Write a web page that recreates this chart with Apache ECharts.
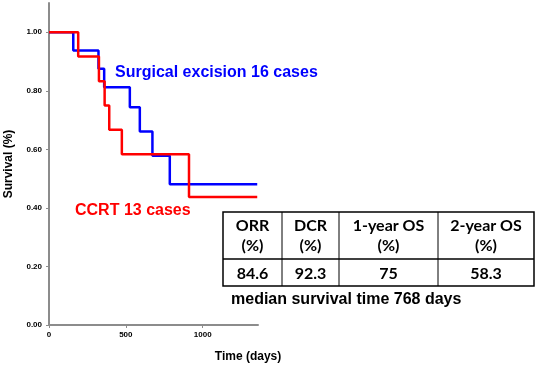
<!DOCTYPE html>
<html>
<head>
<meta charset="utf-8">
<script src="https://cdn.jsdelivr.net/npm/echarts@6/dist/echarts.min.js"></script>
<style>
  html, body { margin: 0; padding: 0; background: #fff; }
  #chart { width: 536px; height: 366px; }
</style>
</head>
<body>
<div id="chart"></div>
<script>
// Kaplan-Meier steps: [days, survival]
const surgeryTimes = [0, 158, 322, 359, 526, 591, 673, 786, 1355];
const surgerySurv = [1.0, 0.9375, 0.875, 0.8125, 0.744, 0.661, 0.578, 0.481, 0.481];
const ccrtTimes = [0, 190, 325, 362, 392, 474, 911, 1355];
const ccrtSurv = [1.0, 0.917, 0.833, 0.75, 0.667, 0.583, 0.437, 0.437];

const yTicks = [0, 0.2, 0.4, 0.6, 0.8, 1.0];
const xTicks = [0, 500, 1000];

const tableHeaders = ['ORR\n(%)', 'DCR\n(%)', '1-year OS\n(%)', '2-year OS\n(%)'];
const tableValues = ['84.6', '92.3', '75', '58.3'];
const medianNote = 'median survival time 768 days';

const chart = echarts.init(document.getElementById('chart'));

// table geometry
const colX = [223, 282, 339, 438, 534];
const rowY = [212, 259, 286];
const tableFont = 'Lato, "Open Sans", sans-serif';
const arial = '"Liberation Sans", Arial, sans-serif';

const tableGraphics = [];
tableGraphics.push({
  type: 'rect',
  shape: { x: colX[0], y: rowY[0], width: colX[4] - colX[0], height: rowY[2] - rowY[0] },
  style: { fill: 'none', stroke: '#000', lineWidth: 1.5 }
});
tableGraphics.push({
  type: 'line',
  shape: { x1: colX[0], y1: rowY[1], x2: colX[4], y2: rowY[1] },
  style: { stroke: '#000', lineWidth: 1.5 }
});
for (let i = 1; i < 4; i++) {
  tableGraphics.push({
    type: 'line',
    shape: { x1: colX[i], y1: rowY[0], x2: colX[i], y2: rowY[2] },
    style: { stroke: '#000', lineWidth: 1 }
  });
}
tableHeaders.forEach((h, i) => {
  const cx = (colX[i] + colX[i + 1]) / 2;
  tableGraphics.push({
    type: 'text',
    x: cx, y: (rowY[0] + rowY[1]) / 2,
    style: {
      text: h, align: 'center', verticalAlign: 'middle',
      font: 'bold 16px ' + tableFont, lineHeight: 20, fill: '#000'
    }
  });
  tableGraphics.push({
    type: 'text',
    x: cx, y: (rowY[1] + rowY[2]) / 2 + 1,
    style: {
      text: tableValues[i], align: 'center', verticalAlign: 'middle',
      font: 'bold 16px ' + tableFont, fill: '#000'
    }
  });
});

const option = {
  animation: false,
  grid: { left: 49, right: 278, top: 3, bottom: 41 },
  xAxis: {
    type: 'value',
    min: 0,
    max: 1360,
    axisLine: { lineStyle: { color: '#8c8c8c', width: 2 } },
    axisTick: { show: true, length: 3, customValues: xTicks, lineStyle: { color: '#8c8c8c' } },
    axisLabel: {
      customValues: xTicks,
      formatter: v => String(v),
      color: '#000', fontSize: 8, fontWeight: 'bold',
      fontFamily: arial, margin: 6
    },
    splitLine: { show: false }
  },
  yAxis: {
    type: 'value',
    min: 0,
    max: 1.1,
    name: 'Survival (%)',
    nameLocation: 'middle',
    nameGap: 34,
    nameTextStyle: {
      color: '#000', fontSize: 12, fontWeight: 'bold', fontFamily: arial
    },
    axisLine: { show: true, lineStyle: { color: '#8c8c8c', width: 2 } },
    axisTick: { show: true, length: 3, customValues: yTicks, lineStyle: { color: '#8c8c8c' } },
    axisLabel: {
      customValues: yTicks,
      formatter: v => v.toFixed(2),
      color: '#000', fontSize: 8, fontWeight: 'bold',
      fontFamily: arial, margin: 7
    },
    splitLine: { show: false }
  },
  series: [
    {
      name: 'Surgical excision',
      type: 'line',
      step: 'end',
      symbol: 'none',
      data: surgeryTimes.map((t, i) => [t, surgerySurv[i]]),
      lineStyle: { color: '#0000ff', width: 2.5 }
    },
    {
      name: 'CCRT',
      type: 'line',
      step: 'end',
      symbol: 'none',
      data: ccrtTimes.map((t, i) => [t, ccrtSurv[i]]),
      lineStyle: { color: '#ff0000', width: 2.5 }
    }
  ],
  graphic: [
    {
      type: 'text', x: 115, y: 73,
      style: {
        text: 'Surgical excision 16 cases', verticalAlign: 'middle',
        font: 'bold 16px ' + arial, fill: '#0000ff'
      }
    },
    {
      type: 'text', x: 75, y: 211,
      style: {
        text: 'CCRT 13 cases', verticalAlign: 'middle',
        font: 'bold 16px ' + arial, fill: '#ff0000'
      }
    },
    {
      type: 'text', x: 231, y: 300,
      style: {
        text: medianNote, verticalAlign: 'middle',
        font: 'bold 16px ' + arial, fill: '#000'
      }
    },
    {
      type: 'text', x: 248, y: 357,
      style: {
        text: 'Time (days)', align: 'center', verticalAlign: 'middle',
        font: 'bold 12px ' + arial, fill: '#000'
      }
    }
  ].concat(tableGraphics)
};

chart.setOption(option);
</script>
</body>
</html>
